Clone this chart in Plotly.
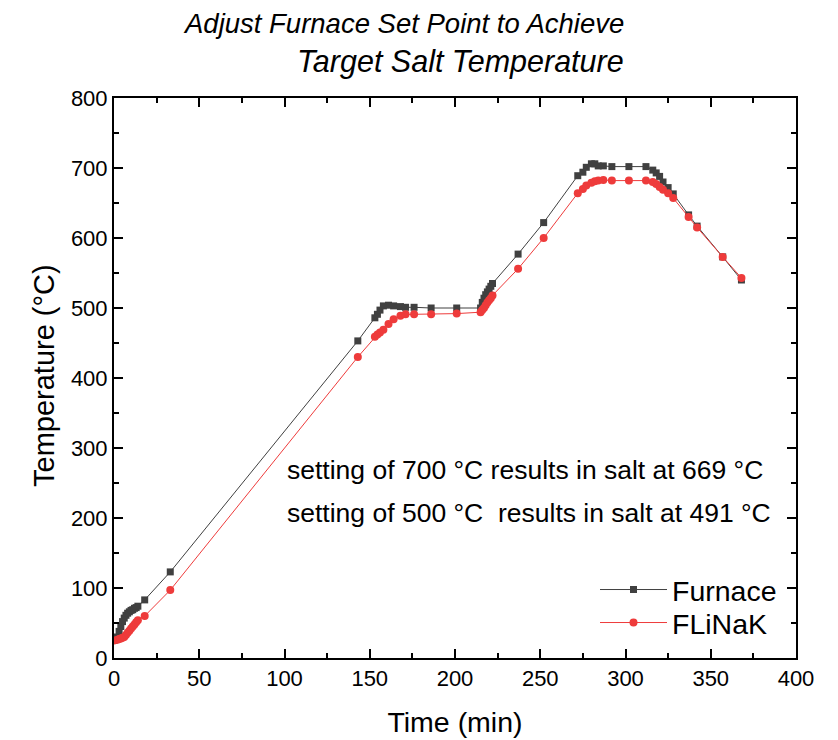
import plotly.graph_objects as go

time_min = [0, 2, 3, 4, 5, 6, 7, 8, 9, 10, 11, 12, 13, 14, 18, 33, 143, 153, 154.5, 156, 158, 161, 164,
            168, 171, 176, 186, 201, 215, 216, 217, 218, 219, 220, 221, 222, 237, 252, 272, 275, 277,
            280, 282, 284, 287, 292, 302, 312, 316, 318, 320, 322, 325, 328, 337, 342, 357, 368]
furnace = [25, 30, 38, 45, 52, 57, 61, 64, 66, 68, 69, 71, 72, 74, 83, 123, 453, 486, 491, 497, 503, 504, 503,
           502, 501, 501, 500, 500, 500, 508, 514, 519, 523, 527, 531, 535, 577, 622, 689, 694, 701,
           706, 706, 703, 703, 702, 702, 702, 697, 693, 688, 680, 672, 663, 633, 617, 573, 540]
flinak = [25, 26, 27, 28, 29, 30, 33, 36, 39, 42, 45, 48, 51, 54, 60, 97, 430, 459, 462, 465, 469, 477, 484,
          489, 491, 491, 491, 492, 494, 497, 500, 504, 508, 511, 514, 518, 556, 600, 664, 670, 675,
          679, 681, 682, 683, 682, 682, 682, 680, 677, 673, 669, 664, 657, 630, 615, 573, 543]

x_ticks = [0, 50, 100, 150, 200, 250, 300, 350, 400]
y_ticks = [0, 100, 200, 300, 400, 500, 600, 700, 800]

FONT = "Liberation Sans, Arial, sans-serif"
BLACK_C = "#404040"
RED_C = "#ee3b3b"

# page body has an 8px margin: figure is drawn from (8, 8) in the screenshot
OFF = 8
W, H = 838 - OFF, 740 - OFF
L, R, T, B = 114 - OFF, 42, 98 - OFF, 82
PW, PH = W - L - R, H - T - B


def px_x(sx):  # screenshot x -> paper x
    return (sx - OFF - L) / PW


def px_y(sy):  # screenshot y -> paper y
    return (H - B - (sy - OFF)) / PH


fig = go.Figure()
fig.add_trace(go.Scatter(x=time_min, y=furnace, name="Furnace", mode="lines+markers",
                         line=dict(color=BLACK_C, width=1),
                         marker=dict(symbol="square", size=7, color=BLACK_C), legend="legend"))
fig.add_trace(go.Scatter(x=time_min, y=flinak, name="FLiNaK", mode="lines+markers",
                         line=dict(color=RED_C, width=1),
                         marker=dict(symbol="circle", size=8, color=RED_C), legend="legend2"))

axis_common = dict(showline=True, linecolor="black", linewidth=2, mirror="ticks",
                   ticks="inside", ticklen=9, tickwidth=2, tickcolor="black",
                   showgrid=False, zeroline=False, automargin=False,
                   tickfont=dict(family=FONT, size=22, color="black"))

fig.update_xaxes(range=[0, 400], tickvals=x_ticks,
                 title=dict(text="Time (min)", font=dict(family=FONT, size=28.5, color="black"), standoff=22),
                 minor=dict(ticks="inside", ticklen=5, tickwidth=2, tickcolor="black", dtick=25),
                 **axis_common)
fig.update_yaxes(range=[0, 800], tickvals=y_ticks,
                 minor=dict(ticks="inside", ticklen=5, tickwidth=2, tickcolor="black", dtick=50),
                 **axis_common)

# y-axis title
fig.add_annotation(x=px_x(44), y=px_y(376), xref="paper", yref="paper",
                   xanchor="center", yanchor="middle", textangle=-90, showarrow=False,
                   text="Temperature (°C)", font=dict(family=FONT, size=29, color="black"))

fig.add_annotation(x=100, y=268, xref="x", yref="y", xanchor="left", yanchor="middle",
                   text="setting of 700 °C results in salt at 669 °C", showarrow=False,
                   font=dict(family=FONT, size=26.5, color="black"))
fig.add_annotation(x=100, y=207, xref="x", yref="y", xanchor="left", yanchor="middle",
                   text="setting of 500 °C\u00a0 results in salt at 491 °C", showarrow=False,
                   font=dict(family=FONT, size=26.5, color="black"))

# chart title (two right-aligned italic lines)
fig.add_annotation(x=px_x(626), y=px_y(23), xref="paper", yref="paper",
                   xanchor="right", yanchor="middle", showarrow=False,
                   text="<i>Adjust Furnace Set Point to Achieve</i>",
                   font=dict(family=FONT, size=27.5, color="black"))
fig.add_annotation(x=px_x(626), y=px_y(61), xref="paper", yref="paper",
                   xanchor="right", yanchor="middle", showarrow=False,
                   text="<i>Target Salt Temperature</i>",
                   font=dict(family=FONT, size=30.5, color="black"))

legend_common = dict(xanchor="left", yanchor="middle", bgcolor="rgba(0,0,0,0)", itemwidth=67,
                     font=dict(family=FONT, size=28.5, color="black"))

fig.update_layout(
    width=W, height=H,
    margin=dict(l=L, r=R, t=T, b=B),
    paper_bgcolor="white", plot_bgcolor="white",
    legend=dict(x=px_x(595), y=px_y(590), **legend_common),
    legend2=dict(x=px_x(595), y=px_y(623), **legend_common),
    showlegend=True,
)

fig.write_html("out.html")
